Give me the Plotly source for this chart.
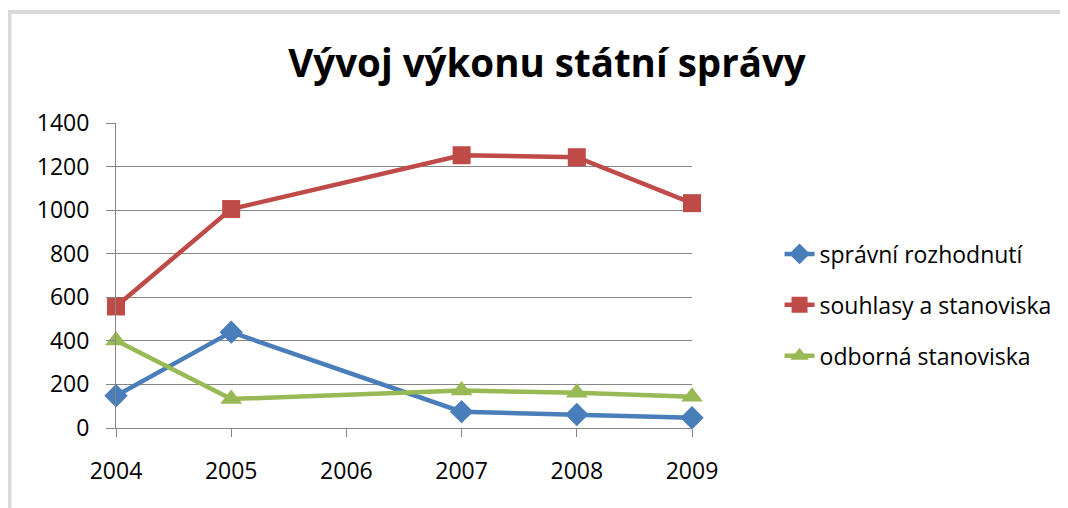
import plotly.graph_objects as go

years = [2004, 2005, 2006, 2007, 2008, 2009]
tick_labels = ["2004", "2005", "2006", "2007", "2008", "2009"]
spravni_rozhodnuti = [148, 440, None, 75, 62, 47]
souhlasy_a_stanoviska = [558, 1005, None, 1252, 1243, 1032]
odborna_stanoviska = [402, 133, None, 172, 162, 143]

series = [
    ("správní rozhodnutí", spravni_rozhodnuti, "#4A7EBB", "diamond", 18),
    ("souhlasy a stanoviska", souhlasy_a_stanoviska, "#BE4B48", "square", 18),
    ("odborná stanoviska", odborna_stanoviska, "#98B954", "triangle-up", 19),
]

fig = go.Figure()
for i, (name, vals, col, sym, sz) in enumerate(series):
    fig.add_trace(go.Scatter(
        x=years, y=vals, name=name, mode="lines+markers",
        connectgaps=True, cliponaxis=False, legendgroup=f"g{i}",
        line=dict(color=col, width=4.5),
        marker=dict(color=col, symbol=sym, size=sz, line=dict(width=0)),
    ))

FONT = "Open Sans"
W, H = 1060, 500
OFF = 8  # page body margin
L = 116 - OFF
T = 123 - OFF
B = H - (428 - OFF)
R = W - (695 - OFF)
PW = W - L - R
PH = H - T - B

fig.update_layout(
    width=W, height=H,
    margin=dict(l=L, r=R, t=T, b=B),
    paper_bgcolor="white", plot_bgcolor="white",
    font=dict(family=FONT, size=23, color="black"),
    title=dict(text="Vývoj výkonu státní správy", x=(547 - OFF) / W, xanchor="center",
               y=1 - (64 - OFF) / H, yanchor="middle",
               font=dict(family=FONT, size=38.5, color="black", weight="bold")),
    showlegend=True,
    legend=dict(x=(783 - OFF - L) / PW, xanchor="left", y=(428 - 305) / PH, yanchor="middle",
                font=dict(family=FONT, size=23, color="black"),
                tracegroupgap=18, bgcolor="rgba(0,0,0,0)"),
    xaxis=dict(range=[2004, 2009], tickvals=years, ticktext=tick_labels,
               showgrid=False, showline=True, linecolor="#868686", linewidth=1,
               ticks="outside", ticklen=8, tickcolor="#868686", ticklabelstandoff=14,
               zeroline=False, fixedrange=True),
    yaxis=dict(range=[0, 1400], dtick=200, showgrid=True, gridcolor="#868686", gridwidth=1,
               showline=True, linecolor="#868686", linewidth=1,
               ticks="outside", ticklen=9, tickcolor="#868686", ticklabelstandoff=12,
               zeroline=False, fixedrange=True),
    shapes=[
        dict(type="line", xref="paper", yref="paper",
             x0=(7 - OFF - L) / PW, x1=(W + 20 - L) / PW,
             y0=(H - B - (12 - OFF)) / PH, y1=(H - B - (12 - OFF)) / PH,
             line=dict(color="#D9D9D9", width=4), layer="below"),
        dict(type="line", xref="paper", yref="paper",
             x0=(9 - OFF - L) / PW, x1=(9 - OFF - L) / PW,
             y0=(H - B - (10 - OFF)) / PH, y1=-(B + 20) / PH,
             line=dict(color="#D9D9D9", width=4), layer="below"),
    ],
)

fig.write_html("out.html")
